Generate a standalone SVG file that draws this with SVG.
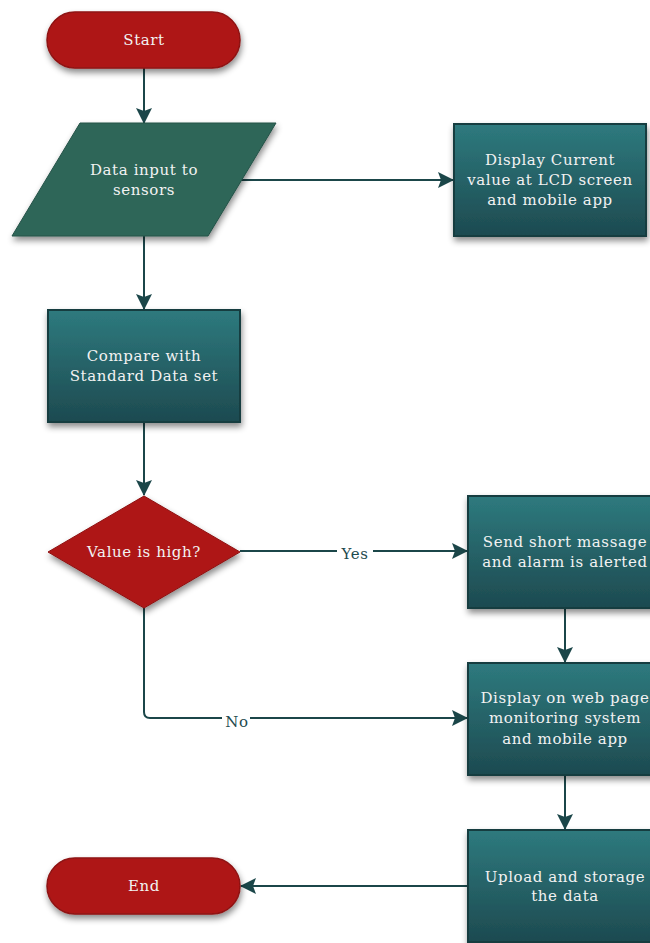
<svg xmlns="http://www.w3.org/2000/svg" width="650" height="943" viewBox="0 0 650 943">
<defs>
<linearGradient id="teal" x1="0" y1="0" x2="0" y2="1">
<stop offset="0" stop-color="#2E7A7E"/>
<stop offset="1" stop-color="#1D4A50"/>
</linearGradient>
<filter id="sh" x="-20%" y="-20%" width="140%" height="150%">
<feDropShadow dx="1" dy="4" stdDeviation="3" flood-color="#000" flood-opacity="0.45"/>
</filter>
<marker id="arrL" markerWidth="16" markerHeight="16" refX="15" refY="8" orient="auto" markerUnits="userSpaceOnUse" viewBox="0 0 16 16">
<path d="M0,0 L16,8 L0,16 L3,8 z" fill="#1B4649"/>
</marker>
</defs>
<style>
text{font-family:'DejaVu Serif','Liberation Serif',serif;font-size:15px;text-anchor:middle;letter-spacing:0.6px}
.lbl{fill:#F2F2F2}
.el{fill:#1E4A4E}
.term{fill:#AE1515;stroke:#8E1212;stroke-width:1.5;filter:url(#sh)}
.proc{fill:url(#teal);stroke:#163C3F;stroke-width:2;filter:url(#sh)}
.io{fill:#2F6658;stroke:#245247;stroke-width:1;filter:url(#sh)}
.con{fill:none;stroke:#1B4649;stroke-width:2;marker-end:url(#arrL)}
</style>
<rect width="650" height="943" fill="#FFFFFF"/>
<g id="connectors">
<path class="con" d="M144,68 L144,123"/>
<path class="con" d="M240,180 L453,180"/>
<path class="con" d="M144,236 L144,309"/>
<path class="con" d="M144,422 L144,495"/>
<path class="con" d="M240,551 L467,551"/>
<path class="con" d="M565,608 L565,662"/>
<path class="con" d="M144,608 L144,712 Q144,718 150,718 L467,718"/>
<path class="con" d="M565,775 L565,829"/>
<path class="con" d="M468,886 L241,886"/>
<rect x="337" y="545" width="36" height="14" fill="#FFFFFF"/>
<text class="el" x="355" y="559">Yes</text>
<rect x="222" y="712" width="28" height="14" fill="#FFFFFF"/>
<text class="el" x="237" y="727">No</text>
</g>
<g id="start">
<rect class="term" x="47" y="12" width="193" height="56" rx="28" ry="28"/>
<text class="lbl" x="144" y="45">Start</text>
</g>
<g id="input">
<polygon class="io" points="80,123 276,123 208,236 12,236"/>
<text class="lbl" x="144" y="175">Data input to</text>
<text class="lbl" x="144" y="195">sensors</text>
</g>
<g id="display-lcd">
<rect class="proc" x="454" y="124" width="192" height="112"/>
<text class="lbl" x="550" y="165">Display Current</text>
<text class="lbl" x="550" y="185">value at LCD screen</text>
<text class="lbl" x="550" y="205">and mobile app</text>
</g>
<g id="compare">
<rect class="proc" x="48" y="310" width="192" height="112"/>
<text class="lbl" x="144" y="361">Compare with</text>
<text class="lbl" x="144" y="381">Standard Data set</text>
</g>
<g id="decision">
<polygon points="144,496 240,552 144,608 48,552" fill="#AE1515" stroke="#8E1212" stroke-width="1" filter="url(#sh)"/>
<text class="lbl" x="144" y="557">Value is high?</text>
</g>
<g id="send">
<rect class="proc" x="468" y="496" width="194" height="112"/>
<text class="lbl" x="565" y="547">Send short massage</text>
<text class="lbl" x="565" y="567">and alarm is alerted</text>
</g>
<g id="web">
<rect class="proc" x="468" y="663" width="194" height="112"/>
<text class="lbl" x="565" y="703">Display on web page</text>
<text class="lbl" x="565" y="723">monitoring system</text>
<text class="lbl" x="565" y="744">and mobile app</text>
</g>
<g id="upload">
<rect class="proc" x="468" y="830" width="194" height="112"/>
<text class="lbl" x="565" y="882">Upload and storage</text>
<text class="lbl" x="565" y="901">the data</text>
</g>
<g id="end">
<rect class="term" x="47" y="858" width="193" height="56" rx="28" ry="28"/>
<text class="lbl" x="144" y="891">End</text>
</g>
</svg>
